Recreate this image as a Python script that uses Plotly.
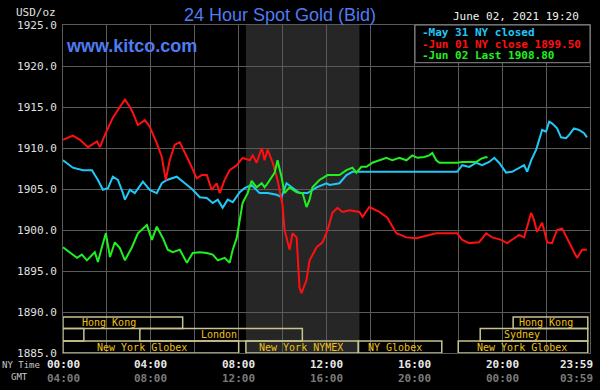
import plotly.graph_objects as go

# ---------------- data ----------------
# hours since 00:00 NY time, price USD/oz
may31_t = [0, 0.45, 0.91, 1.32, 1.45, 1.59, 1.82, 2.05, 2.27, 2.5, 2.73, 2.82, 3.05, 3.27, 3.64,
           3.95, 4.27, 4.5, 4.73, 5.18, 5.55, 5.91, 6.23, 6.55, 6.82, 7.05, 7.27, 7.5, 7.73, 8.05,
           8.27, 8.59, 8.95, 9.32, 9.73, 9.95, 10.18, 10.45, 10.77, 11.14, 11.55, 12.0, 12.14,
           12.59, 12.91, 13.18, 13.5, 17.95, 18.18, 18.5, 18.82, 19.09, 19.41, 19.64, 19.86,
           20.18, 20.45, 20.77, 21.0, 21.14, 21.32, 21.55, 21.82, 22.0, 22.14, 22.27, 22.5,
           22.68, 22.91, 23.05, 23.27, 23.5, 23.73, 23.86]
may31_v = [1908.5, 1907.6, 1907.3, 1907.3, 1906.7, 1906.1, 1904.9, 1905.1, 1906.5, 1906.1, 1904.5,
           1903.7, 1904.9, 1904.5, 1905.9, 1904.9, 1904.5, 1905.7, 1906.1, 1906.5, 1905.7, 1904.9,
           1904.0, 1903.9, 1903.3, 1903.7, 1902.7, 1903.7, 1903.4, 1904.6, 1905.1, 1905.5, 1904.5,
           1904.5, 1904.3, 1904.0, 1905.7, 1905.2, 1904.5, 1904.5, 1905.2, 1905.7, 1905.5, 1905.7,
           1906.7, 1907.1, 1907.1, 1907.1, 1907.9, 1907.7, 1908.2, 1907.9, 1908.3, 1908.8, 1908.2,
           1907.0, 1907.1, 1907.6, 1907.9, 1907.1, 1908.5, 1909.8, 1912.2, 1912.0, 1913.2, 1913.0,
           1912.4, 1911.3, 1911.2, 1911.6, 1912.4, 1912.2, 1911.8, 1911.3]

jun01_t = [0, 0.45, 0.77, 1.14, 1.55, 1.68, 1.91, 2.27, 2.59, 2.82, 3.05, 3.18, 3.41, 3.73, 3.95,
           4.27, 4.5, 4.68, 4.86, 5.09, 5.32, 5.55, 5.77, 6.09, 6.32, 6.55, 6.77, 7.0, 7.14, 7.36,
           7.59, 7.91, 8.18, 8.5, 8.64, 8.82, 9.05, 9.18, 9.32, 9.55, 9.77, 10.0, 10.09, 10.32,
           10.45, 10.64, 10.77, 10.86, 11.09, 11.23, 11.55, 11.82, 12.05, 12.27, 12.5, 12.73,
           13.05, 13.5, 13.64, 13.95, 14.41, 14.77, 15.0, 15.18, 15.64, 16.09, 16.68, 17.0, 17.95,
           18.18, 18.5, 18.95, 19.27, 19.55, 19.95, 20.23, 20.55, 20.77, 21.0, 21.32, 21.45, 21.59,
           21.82, 22.05, 22.27, 22.5, 22.73, 22.95, 23.18, 23.41, 23.64, 23.86]
jun01_v = [1911.0, 1911.5, 1911.0, 1910.1, 1910.8, 1910.1, 1911.6, 1913.7, 1915.0, 1915.9, 1915.0,
           1914.3, 1912.8, 1913.4, 1912.6, 1910.6, 1908.9, 1906.1, 1908.5, 1910.4, 1910.7, 1909.5,
           1908.2, 1906.3, 1906.7, 1906.7, 1904.9, 1905.7, 1904.5, 1906.1, 1907.3, 1907.9, 1908.8,
           1908.5, 1909.1, 1908.2, 1910.0, 1908.5, 1909.8, 1908.2, 1906.1, 1903.0, 1900.0, 1897.6,
           1899.6, 1899.1, 1893.0, 1892.3, 1893.9, 1896.3, 1897.9, 1898.5, 1900.0, 1902.1, 1902.7,
           1902.2, 1902.4, 1902.2, 1901.6, 1902.8, 1902.2, 1901.5, 1900.4, 1899.6, 1899.1, 1899.0,
           1899.4, 1899.6, 1899.6, 1898.8, 1898.4, 1898.5, 1899.6, 1899.1, 1898.8, 1898.4, 1899.0,
           1899.4, 1899.1, 1902.1, 1901.2, 1899.8, 1900.9, 1898.5, 1898.4, 1900.0, 1900.2, 1899.1,
           1897.8, 1896.6, 1897.6, 1897.6]

jun02_t = [0, 0.32, 0.64, 0.86, 1.09, 1.45, 1.59, 1.77, 1.95, 2.14, 2.36, 2.59, 2.82, 3.14, 3.41,
           3.82, 4.05, 4.27, 4.55, 4.77, 5.0, 5.32, 5.64, 5.91, 6.23, 6.55, 6.82, 7.05, 7.36, 7.59,
           7.73, 7.91, 8.05, 8.18, 8.41, 8.59, 8.82, 9.05, 9.18, 9.32, 9.64, 9.77, 9.95, 10.09,
           10.32, 10.64, 10.91, 11.09, 11.23, 11.36, 11.68, 11.82, 12.05, 12.59, 12.91, 13.18,
           13.36, 13.59, 13.82, 14.09, 14.41, 14.73, 15.0, 15.32, 15.64, 15.91, 16.14, 16.45,
           16.68, 16.82, 17.0, 17.14, 17.95, 18.18, 18.82, 19.05, 19.27, 19.33]
jun02_v = [1897.9, 1897.3, 1896.6, 1897.0, 1896.3, 1897.3, 1896.1, 1897.9, 1899.6, 1896.7, 1898.5,
           1897.8, 1896.3, 1897.9, 1899.6, 1900.6, 1898.8, 1900.4, 1899.0, 1897.6, 1897.3, 1897.6,
           1896.0, 1897.2, 1897.3, 1897.2, 1897.0, 1896.3, 1896.6, 1896.0, 1897.6, 1899.0, 1901.2,
           1903.3, 1904.5, 1906.0, 1905.2, 1905.7, 1905.2, 1905.7, 1907.0, 1908.5, 1906.5, 1904.5,
           1905.2, 1904.6, 1904.5, 1902.8, 1903.7, 1905.2, 1906.1, 1906.3, 1906.7, 1906.7, 1907.3,
           1907.6, 1907.0, 1907.7, 1907.7, 1908.2, 1908.5, 1908.8, 1908.5, 1908.8, 1908.5, 1909.1,
           1908.8, 1908.9, 1909.1, 1909.4, 1908.5, 1908.2, 1908.2, 1908.3, 1908.3, 1908.7, 1908.9,
           1908.8]

series_names = ["May 31 NY closed", "Jun 01 NY close 1899.50", "Jun 02 Last 1908.80"]
series_colors = ["#20c8f8", "#ff1010", "#20f020"]

y_ticks = [1885, 1890, 1895, 1900, 1905, 1910, 1915, 1920, 1925]
time_pos = [0, 4, 8, 12, 16, 20, 24]
ny_labels = ["00:00", "04:00", "08:00", "12:00", "16:00", "20:00", "23:59"]
gmt_labels = ["04:00", "08:00", "12:00", "16:00", "20:00", "00:00", "03:59"]

nymex_start, nymex_end = 8.33, 13.5

# market sessions: label, row, start hour, end hour, label centre hour
session_names = ["Hong Kong", "", "London", "New York Globex", "New York NYMEX", "NY Globex",
                 "New York Globex", "Sydney", "Hong Kong"]
session_rows = [0, 1, 1, 2, 2, 2, 2, 1, 0]
session_start = [0, 0, 3.5, 0, 8.33, 13.45, 18.0, 19.0, 20.5]
session_end = [5.45, 0.95, 10.9, 8.0, 13.45, 17.25, 23.9, 23.9, 23.9]
session_label_at = [2.1, 0.5, 7.1, 3.6, 10.85, 15.1, 20.9, 20.9, 22.0]

# ---------------- figure ----------------
MONO = "DejaVu Sans Mono"
SANS = "Liberation Sans"
BLUE = "#4f7cf2"
GOLD = "#f0c018"
BOX = "#c8c490"
GRID = "#5a5a5a"

# pixel helpers for the plot box (l=63, t=25, w=527, h=328)
def px(xp):
    return (xp - 63) / 527

def py(yp):
    return (353 - yp) / 328

fig = go.Figure()
for t, v, name, col in zip([may31_t, jun01_t, jun02_t], [may31_v, jun01_v, jun02_v],
                           series_names, series_colors):
    fig.add_trace(go.Scatter(x=t, y=v, mode="lines", name=name,
                             line=dict(color=col, width=2), showlegend=False))

fig.update_layout(
    width=600, height=390,
    margin=dict(l=63, r=10, t=25, b=37),
    paper_bgcolor="black", plot_bgcolor="black",
    xaxis=dict(range=[0, 24], tickvals=list(range(0, 25, 2)), showticklabels=False,
               showgrid=True, gridcolor=GRID, gridwidth=1, zeroline=False,
               showline=True, linecolor=GRID, mirror=True, fixedrange=True),
    yaxis=dict(range=[1885, 1925], tickvals=y_ticks,
               ticktext=[f"{v:.1f}" for v in y_ticks],
               tickfont=dict(family=MONO, size=11, color="#e0e0e0"),
               ticklabelstandoff=3,
               showgrid=True, gridcolor=GRID, gridwidth=1, zeroline=False,
               showline=True, linecolor=GRID, mirror=True, fixedrange=True),
)

shapes = []
# NYMEX shading
shapes.append(dict(type="rect", xref="x", yref="paper", x0=nymex_start, x1=nymex_end,
                   y0=0, y1=1, fillcolor="#262626", line=dict(width=0), layer="below"))
# session boxes (rows inside the 1885-1890 band)
row_top = [1889.4, 1888.0, 1886.45]
row_bot = [1888.0, 1886.45, 1885.0]
annotations = []
for name, r, s, e, lab in zip(session_names, session_rows, session_start, session_end,
                              session_label_at):
    shapes.append(dict(type="rect", xref="x", yref="y", x0=s, x1=e, y0=row_bot[r], y1=row_top[r],
                       line=dict(color=BOX, width=1.5), fillcolor="rgba(0,0,0,0)", layer="above"))
    if name:
        annotations.append(dict(x=lab, y=(row_top[r] + row_bot[r]) / 2, xref="x", yref="y",
                                text=name, showarrow=False,
                                font=dict(family=MONO, size=10, color=GOLD)))
# legend box
shapes.append(dict(type="rect", xref="paper", yref="paper", x0=px(415), x1=1.0, y0=py(62.7), y1=1.0,
                   fillcolor="black", line=dict(color="#8a8a8a", width=1), layer="above"))
fig.update_layout(shapes=shapes)

for i, (name, col) in enumerate(zip(series_names, series_colors)):
    annotations.append(dict(x=px(420), y=py(32.7 + i * 11.4), xref="paper", yref="paper",
                            xanchor="left", yanchor="middle", text="-" + name, showarrow=False,
                            font=dict(family=MONO, size=11, color=col, weight="bold")))

# time labels
for p, ny, gmt in zip(time_pos, ny_labels, gmt_labels):
    if p == 24:
        anchor, shift = "right", 5
    else:
        anchor, shift = "center", 0
    annotations.append(dict(x=p, y=py(364), xref="x", yref="paper", xanchor=anchor,
                            yanchor="middle", xshift=shift, text=ny, showarrow=False,
                            font=dict(family=MONO, size=11, color="#e8e8e8", weight="bold")))
    annotations.append(dict(x=p, y=py(378), xref="x", yref="paper", xanchor=anchor,
                            yanchor="middle", xshift=shift, text=gmt, showarrow=False,
                            font=dict(family=MONO, size=11, color="#7a7a7a", weight="bold")))

annotations += [
    dict(x=px(42), y=py(365), xref="paper", yref="paper", xanchor="right", yanchor="middle",
         text="NY Time", showarrow=False, font=dict(family=MONO, size=9, color="#c8c8c8")),
    dict(x=px(19), y=py(377), xref="paper", yref="paper", xanchor="center", yanchor="middle",
         text="GMT", showarrow=False, font=dict(family=MONO, size=9, color="#c8c8c8")),
    dict(x=px(58), y=py(12), xref="paper", yref="paper", xanchor="right", yanchor="middle",
         text="USD/oz", showarrow=False, font=dict(family=MONO, size=11, color="#e0e0e0")),
    dict(x=px(280), y=py(15), xref="paper", yref="paper", xanchor="center", yanchor="middle",
         text="24 Hour Spot Gold (Bid)", showarrow=False,
         font=dict(family=SANS, size=18, color=BLUE)),
    dict(x=px(64), y=py(46), xref="paper", yref="paper", xanchor="left", yanchor="middle",
         text="www.kitco.com", showarrow=False,
         font=dict(family=SANS, size=18, color=BLUE, weight="bold")),
    dict(x=px(581), y=py(17), xref="paper", yref="paper", xanchor="right", yanchor="middle",
         text="June 02, 2021 19:20", showarrow=False,
         font=dict(family=MONO, size=11, color="#f0f0f0")),
]
fig.update_layout(annotations=annotations)

fig.write_html("out.html", config={"displayModeBar": False},
               post_script="document.body.style.margin='0';")
